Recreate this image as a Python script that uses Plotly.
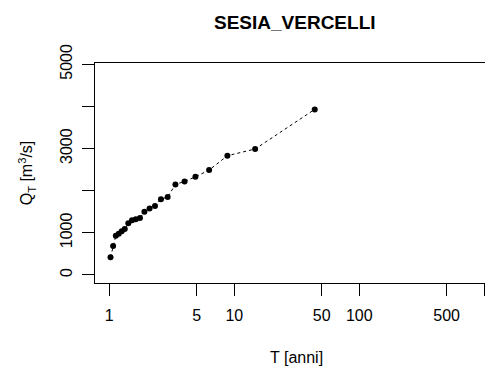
import plotly.graph_objects as go

# Return period T [anni] and discharge Q_T [m3/s]
T_anni = [1.023, 1.073, 1.128, 1.19, 1.257, 1.33, 1.42, 1.52, 1.63, 1.76, 1.91,
          2.1, 2.32, 2.59, 2.93, 3.38, 4.0, 4.89, 6.29, 8.8, 14.67, 44.0]
Q_T = [420, 690, 930, 980, 1040, 1090, 1230, 1300, 1320, 1350, 1500,
       1580, 1640, 1800, 1850, 2150, 2220, 2330, 2490, 2830, 2990, 3930]

x_tickvals = [1, 5, 10, 50, 100, 500, 1000]
x_ticktext = ["1", "5", "10", "50", "100", "500", ""]
y_tickvals = [0, 1000, 2000, 3000, 4000, 5000]
y_ticktext = ["0", "1000", "", "3000", "", "5000"]

FONT = "Liberation Sans, Arial, sans-serif"

# page body has a default 8px margin; compensate so the plot area lands at
# x 95..493, y 63..283 in the window
fig = go.Figure()
fig.add_trace(go.Scatter(
    x=T_anni, y=Q_T, mode="lines+markers",
    line=dict(color="black", width=1, dash="3px,3px"),
    marker=dict(color="black", size=6, symbol="circle"),
    showlegend=False,
))

fig.update_layout(
    width=485, height=364,
    margin=dict(l=87, r=0, t=55, b=89),
    paper_bgcolor="white", plot_bgcolor="white",
    font=dict(family=FONT, size=16, color="black"),
    xaxis=dict(
        type="log", range=[-0.1144, 3.0696],
        tickvals=x_tickvals, ticktext=x_ticktext,
        ticks="outside", ticklen=12, tickwidth=1, tickcolor="black",
        showline=True, linecolor="black", linewidth=1, mirror=True,
        showgrid=False, zeroline=False, ticklabelstandoff=6,
    ),
    yaxis=dict(
        range=[-190, 5031],
        tickvals=y_tickvals, ticktext=y_ticktext, tickangle=-90,
        ticks="outside", ticklen=12, tickwidth=1, tickcolor="black",
        showline=True, linecolor="black", linewidth=1,
        showgrid=False, zeroline=False, ticklabelstandoff=4,
        title=dict(text="Q<sub>T</sub> [m<sup>3</sup>/s]", standoff=20,
                   font=dict(size=16)),
    ),
    annotations=[
        dict(text="<b>SESIA_VERCELLI</b>", xref="paper", yref="paper",
             x=(295 - 95) / 398, y=1 + (63 - 22) / 220,
             showarrow=False, font=dict(size=19), xanchor="center", yanchor="middle"),
        dict(text="T [anni]", xref="paper", yref="paper",
             x=(296.5 - 95) / 398, y=-(357 - 283) / 220,
             showarrow=False, font=dict(size=16), xanchor="center", yanchor="middle"),
    ],
)

fig.write_html("out.html")
